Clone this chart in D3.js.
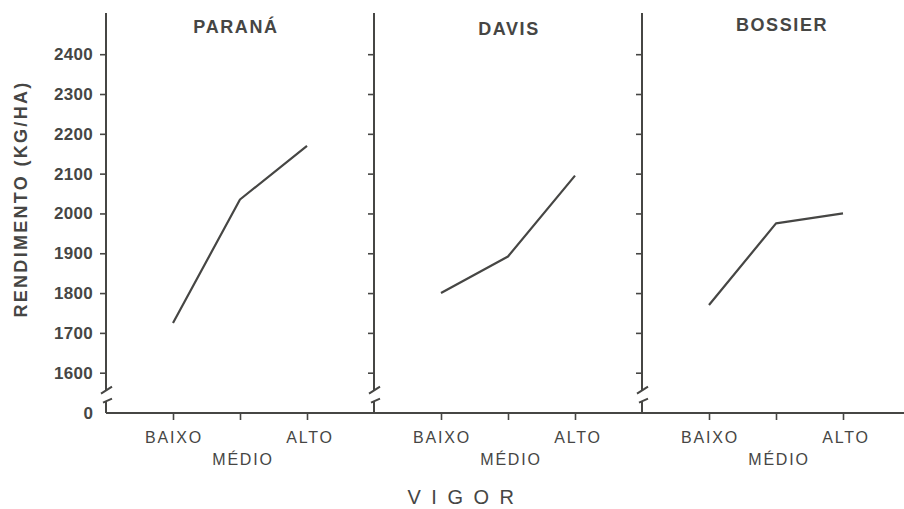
<!DOCTYPE html>
<html>
<head>
<meta charset="utf-8">
<script src="https://cdn.jsdelivr.net/npm/d3@7"></script>
<style>
  html, body { margin: 0; padding: 0; background: #fff; }
  svg { display: block; font-family: "Liberation Sans", Arial, Helvetica, sans-serif; }
</style>
</head>
<body>
<svg id="chart" width="904" height="509"></svg>
<script>
// Yield (kg/ha) by seed vigour class at three sites
const sites = ["PARANÁ", "DAVIS", "BOSSIER"];
const vigor = ["BAIXO", "MÉDIO", "ALTO"];
const parana = [1725, 2035, 2170];
const davis = [1800, 1892, 2095];
const bossier = [1770, 1975, 2000];
const yTicks = [1600, 1700, 1800, 1900, 2000, 2100, 2200, 2300, 2400];
const yTitle = "RENDIMENTO (KG/HA)";
const xTitle = "VIGOR";

const series = [parana, davis, bossier];
const ink = "#464644";

const svg = d3.select("#chart");

// Panels side by side; each panel's left edge is its y axis
const panelX = d3.scaleBand().domain(sites).range([106, 910]).paddingInner(0).paddingOuter(0);
const pw = panelX.bandwidth();
const x = d3.scalePoint().domain(vigor).range([pw / 4, pw * 3 / 4]);
const y = d3.scaleLinear().domain([1600, 2400]).range([372.7, 54.2]);
const zeroY = 413;
const axisTop = 13;

// shared baseline
svg.append("line")
  .attr("x1", panelX(sites[0])).attr("x2", 904)
  .attr("y1", zeroY).attr("y2", zeroY)
  .attr("stroke", ink).attr("stroke-width", 2);

const line = d3.line().x((d, i) => x(vigor[i])).y(d => y(d));

sites.forEach((site, si) => {
  const x0 = panelX(site);
  const g = svg.append("g").attr("transform", `translate(${x0},0)`);

  // y axis with ticks
  const ya = g.append("g").call(
    d3.axisLeft(y).tickValues(yTicks).tickSize(6).tickSizeOuter(0).tickPadding(7)
      .tickFormat(si === 0 ? d3.format("d") : () => "")
  );
  ya.select(".domain").remove();
  ya.selectAll(".tick line").attr("stroke", ink).attr("stroke-width", 1.6);
  ya.selectAll(".tick text")
    .attr("fill", ink).attr("font-size", 17).attr("font-weight", "bold")
    .attr("font-family", "Liberation Sans, Arial, sans-serif")
    .attr("letter-spacing", 0.3);

  // axis line with a break between 0 and the first labelled value
  const b1 = y(1600) + 17;
  const b2 = y(1600) + 28;
  g.append("path")
    .attr("d", `M0,${axisTop} L0,${b1} M-5,${b1 + 4} L6,${b1 - 3}`)
    .attr("fill", "none").attr("stroke", ink).attr("stroke-width", 2);
  g.append("path")
    .attr("d", `M-3,${b2 + 2} L6,${b2 - 2} M0,${b2 + 0.5} L0,${zeroY}`)
    .attr("fill", "none").attr("stroke", ink).attr("stroke-width", 2);

  if (si === 0) {
    g.append("text")
      .attr("x", -13).attr("y", zeroY).attr("dy", "0.35em")
      .attr("text-anchor", "end")
      .attr("fill", ink).attr("font-size", 17).attr("font-weight", "bold")
      .text("0");
  }

  // x ticks
  const xa = g.append("g").attr("transform", `translate(0,${zeroY})`)
    .call(d3.axisBottom(x).tickSize(7).tickSizeOuter(0).tickFormat(""));
  xa.select(".domain").remove();
  xa.selectAll(".tick line").attr("stroke", ink).attr("stroke-width", 1.6);

  // category labels, middle one staggered below
  g.selectAll("text.cat").data(vigor).join("text")
    .attr("class", "cat")
    .attr("x", (d, i) => x(d) + (i === 0 ? 1 : 3))
    .attr("y", (d, i) => i === 1 ? 465 : 443)
    .attr("text-anchor", "middle")
    .attr("fill", ink).attr("font-size", 16)
    .attr("letter-spacing", 1.8)
    .text(d => d);

  // site title
  g.append("text")
    .attr("x", pw / 2 + [-4, 1, 6][si]).attr("y", [33, 35, 31][si])
    .attr("text-anchor", "middle")
    .attr("fill", ink).attr("font-size", 18).attr("font-weight", "bold")
    .attr("letter-spacing", 1.6)
    .text(site);

  // data line
  g.append("path").datum(series[si])
    .attr("d", line)
    .attr("fill", "none").attr("stroke", ink).attr("stroke-width", 2.2)
    .attr("stroke-linejoin", "round");
});

// y title
svg.append("text")
  .attr("transform", `translate(27,${(78 + 320) / 2}) rotate(-90)`)
  .attr("text-anchor", "middle")
  .attr("fill", ink).attr("font-size", 18).attr("font-weight", "bold")
  .attr("letter-spacing", 2.3)
  .text(yTitle);

// x title
svg.append("text")
  .attr("x", 466).attr("y", 504)
  .attr("text-anchor", "middle")
  .attr("fill", ink).attr("font-size", 20)
  .attr("letter-spacing", 10.5)
  .text(xTitle);
</script>
</body>
</html>
